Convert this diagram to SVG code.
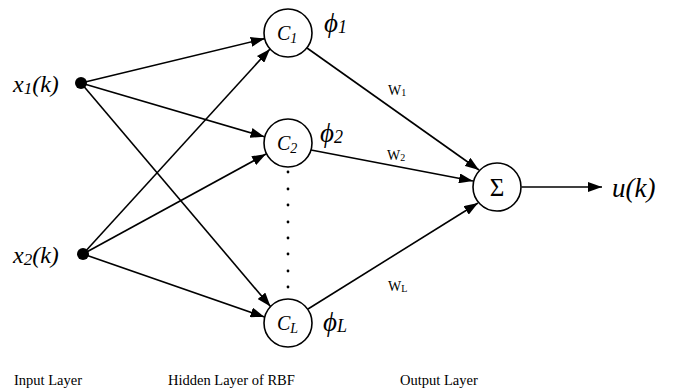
<svg xmlns="http://www.w3.org/2000/svg" width="678" height="392" viewBox="0 0 678 392">
<style>
.ln{stroke:#000;stroke-width:1.6;fill:none}
.nd{stroke:#000;stroke-width:1.6;fill:#fff}
text{fill:#000;font-family:"Liberation Serif","Times New Roman",serif}
.it{font-style:italic}
</style>
<defs>
<marker id="ah" viewBox="0 0 14 10" refX="14" refY="5" markerWidth="14" markerHeight="10" markerUnits="userSpaceOnUse" orient="auto">
<path d="M0,0 L14,5 L0,10 z" fill="#000"/>
</marker>
</defs>
<g id="connectors">
<line class="ln" x1="81" y1="83" x2="264.7" y2="38.6" marker-end="url(#ah)"/>
<line class="ln" x1="81" y1="83" x2="264.5" y2="136.8" marker-end="url(#ah)"/>
<line class="ln" x1="81" y1="83" x2="270.5" y2="306.5" marker-end="url(#ah)"/>
<line class="ln" x1="83" y1="254" x2="270" y2="49" marker-end="url(#ah)"/>
<line class="ln" x1="83" y1="254" x2="266" y2="154" marker-end="url(#ah)"/>
<line class="ln" x1="83" y1="254" x2="264.5" y2="317" marker-end="url(#ah)"/>
<line class="ln" x1="307" y1="48" x2="479" y2="170" marker-end="url(#ah)"/>
<line class="ln" x1="311" y1="150" x2="473" y2="181" marker-end="url(#ah)"/>
<line class="ln" x1="308" y1="309" x2="478" y2="203" marker-end="url(#ah)"/>
<line class="ln" x1="521.5" y1="187" x2="602" y2="187" marker-end="url(#ah)"/>
</g>
<g id="dots">
<circle cx="288" cy="172" r="1.4"/>
<circle cx="288" cy="189" r="1.4"/>
<circle cx="288" cy="205" r="1.4"/>
<circle cx="288" cy="222" r="1.4"/>
<circle cx="288" cy="238" r="1.4"/>
<circle cx="288" cy="254" r="1.4"/>
<circle cx="288" cy="271" r="1.4"/>
<circle cx="288" cy="287" r="1.4"/>
</g>
<g id="x1">
<circle cx="81" cy="83" r="6"/>
<text class="it" x="13" y="92" font-size="24">x<tspan font-size="17" dy="2">1</tspan><tspan dy="-2">(k)</tspan></text>
</g>
<g id="x2">
<circle cx="83" cy="254" r="6"/>
<text class="it" x="13" y="263" font-size="24">x<tspan font-size="17" dy="2">2</tspan><tspan dy="-2">(k)</tspan></text>
</g>
<g id="c1">
<circle class="nd" cx="288" cy="33" r="24"/>
<text class="it" x="277" y="40" font-size="20">C<tspan font-size="14" dy="3">1</tspan></text>
<text class="it" x="324" y="32" font-size="27">ϕ<tspan font-size="18" dy="1">1</tspan></text>
</g>
<g id="c2">
<circle class="nd" cx="288" cy="143" r="24"/>
<text class="it" x="320" y="142" font-size="27">ϕ<tspan font-size="18" dy="1">2</tspan></text>
<text class="it" x="277" y="150" font-size="20">C<tspan font-size="14" dy="3">2</tspan></text>
</g>
<g id="cL">
<circle class="nd" cx="288" cy="323" r="24"/>
<text class="it" x="277" y="330" font-size="20">C<tspan font-size="14" dy="3">L</tspan></text>
<text class="it" x="323" y="331" font-size="27">ϕ<tspan font-size="18" dy="1">L</tspan></text>
</g>
<g id="sum">
<circle class="nd" cx="497" cy="187" r="24"/>
<text x="497" y="195.5" font-size="25" text-anchor="middle">Σ</text>
</g>
<g id="weights">
<text x="388" y="95" font-size="14">W<tspan font-size="10" dy="1">1</tspan></text>
<text x="387" y="160" font-size="14">W<tspan font-size="10" dy="1">2</tspan></text>
<text x="388" y="291" font-size="14">W<tspan font-size="10" dy="1">L</tspan></text>
</g>
<g id="output">
<text class="it" x="612" y="197" font-size="27">u(k)</text>
</g>
<g id="layers">
<text x="14" y="385" font-size="14.5">Input Layer</text>
<text x="168" y="385" font-size="14.5">Hidden Layer of RBF</text>
<text x="400" y="385" font-size="14.5">Output Layer</text>
</g>
</svg>
